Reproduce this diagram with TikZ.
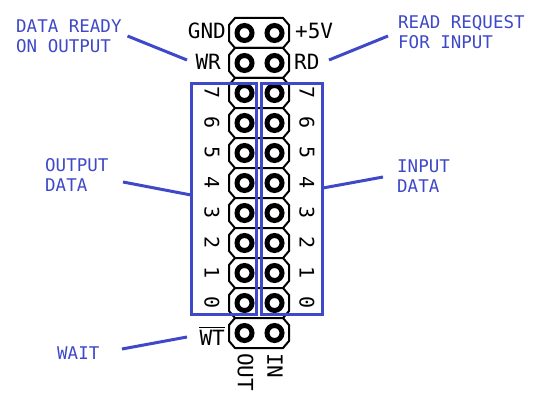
\documentclass[tikz,border=0pt]{standalone}
\usepackage{fontspec}
\setmonofont{DejaVu Sans Mono}
\definecolor{noteblue}{RGB}{62,72,200}
\tikzset{
    pad/.style={circle,draw=black,line width=5pt,minimum size=15pt,inner sep=0pt},
    pinlabel/.style={font=\ttfamily\fontsize{21}{21}\selectfont,inner sep=0pt},
    bitlabel/.style={font=\ttfamily\fontsize{20}{20}\selectfont,inner sep=0pt,rotate=-90},
    note/.style={font=\ttfamily\fontsize{17.5}{19.5}\selectfont,text=noteblue,align=left,anchor=west,inner sep=0pt},
    noteline/.style={draw=noteblue,line width=3pt},
}
\begin{document}
\begin{tikzpicture}[x=1pt,y=-1pt]
        \useasboundingbox (0,0) rectangle (549,404);
        % header rows
        \foreach \r in {0,1,...,10} {
            \pgfmathsetmacro{\y}{33+30*\r}
            \draw[line width=2pt,fill=white] (235,\y-15) -- (283,\y-15) -- (289,\y-8) -- (289,\y+8) -- (283,\y+15)
                -- (235,\y+15) -- (229,\y+8) -- (229,\y-8) -- cycle;
            \node[pad] (a\r) at (244.5,\y) {};
            \node[pad] (b\r) at (274.5,\y) {};
        }
        % pin names
        \node[pinlabel,anchor=east] (gnd) at (226,31) {GND};
        \node[pinlabel,anchor=west] (vcc) at (295,31) {+5V};
        \node[pinlabel,anchor=east] (wr) at (221,62) {WR};
        \node[pinlabel,anchor=west] (rd) at (294,62) {RD};
        \node[pinlabel,anchor=east] (wt) at (225,338) {WT};
        \draw[line width=1.4pt] ([yshift=2.5pt]wt.north west) -- ([yshift=2.5pt]wt.north east);
        \node[pinlabel,rotate=-90,anchor=west] (out) at (245.5,353) {OUT};
        \node[pinlabel,rotate=-90,anchor=west] (in) at (275,353) {IN};
        % data bits
        \foreach \b [count=\r from 2] in {7,6,...,0} {
            \pgfmathsetmacro{\y}{33+30*\r}
            \node[bitlabel] (l\b) at (212,\y) {\b};
            \node[bitlabel] (r\b) at (307,\y) {\b};
        }
        \draw[noteline] (191.3,83.3) rectangle (256.5,314.7);
        \draw[noteline] (261.3,83.3) rectangle (322.5,314.7);
        \coordinate (ol) at (191,195);
        \coordinate (il) at (323,188);
        \coordinate (wl) at (187,337);
        \coordinate (wrl) at (187,60);
        \coordinate (rdl) at (329,60);
        % notes
        \node[note] (ready) at (16,36) {DATA READY\\ON OUTPUT};
        \node[note] (request) at (398,32) {READ REQUEST\\FOR INPUT};
        \node[note] (outdata) at (45,175) {OUTPUT\\DATA};
        \node[note] (indata) at (397,176) {INPUT\\DATA};
        \node[note] (wait) at (57,353) {WAIT};
        \draw[noteline] (127.5,36) -- (wrl);
        \draw[noteline] (388,36) -- (rdl);
        \draw[noteline] (123,182) -- (ol);
        \draw[noteline] (383,177) -- (il);
        \draw[noteline] (122,349) -- (wl);
    \end{tikzpicture}
\end{document}
